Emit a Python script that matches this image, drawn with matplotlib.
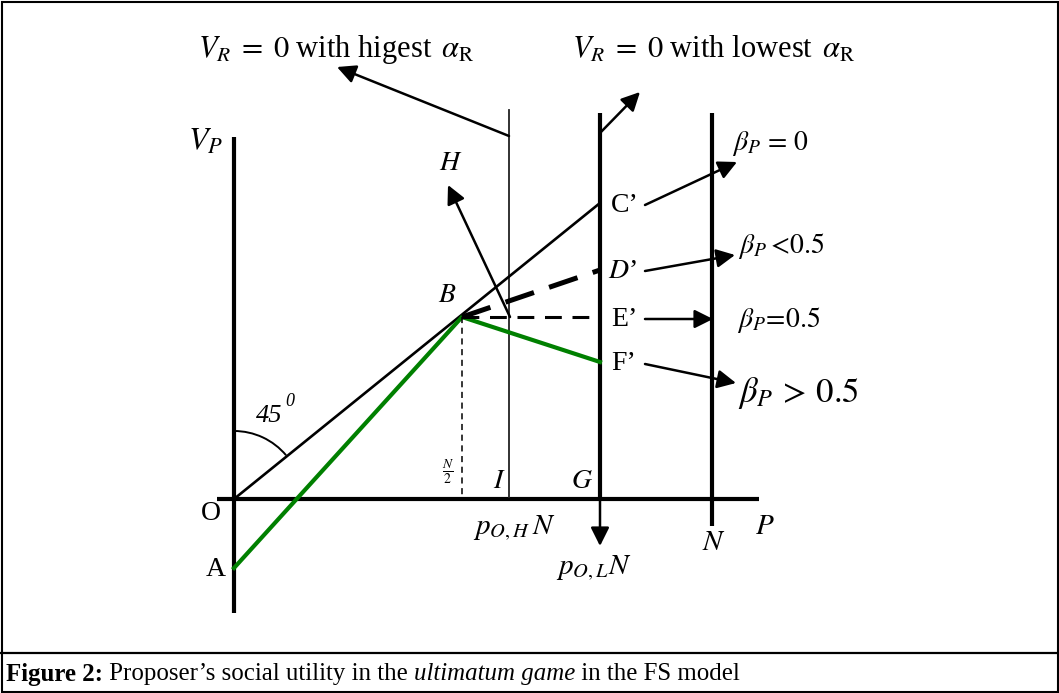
import matplotlib
matplotlib.use("Agg")
import matplotlib.pyplot as plt
from matplotlib.patches import Arc, Rectangle

plt.rcParams['font.family'] = ['Liberation Serif', 'DejaVu Serif']
plt.rcParams['mathtext.fontset'] = 'stix'

W, H = 1059, 693
fig = plt.figure(figsize=(W / 100, H / 100), dpi=100)
ax = fig.add_axes([0, 0, 1, 1])
ax.set_xlim(0, W)
ax.set_ylim(H, 0)
ax.axis('off')

# ---- diagram geometry (pixel-space key points) ----
origin = (234, 499)
point_A = (234, 568)
point_B = (462, 317)
x_I, x_G, x_N = 509, 600, 712
y_C, y_D, y_E, y_F = 203, 270, 317, 362
vaxis_range = (137, 613)
haxis_range = (217, 759)

# labels
beta_labels = [r"$\beta_P\,=\,0$", r"$\beta_P\,\!<\!0.5$", r"$\beta_P\!=\!0.5$", r"$\beta_P\,>\,0.5$"]
point_labels = ["C’", "D’", "E’", "F’"]
caption_parts = [("Figure 2:", 'bold', 'normal'),
                 (" Proposer’s social utility in the ", 'normal', 'normal'),
                 ("ultimatum game", 'normal', 'italic'),
                 (" in the FS model", 'normal', 'normal')]

K = 'black'
GREEN = '#008000'

# frame and caption box
ax.add_patch(Rectangle((1.5, 1.5), W - 3, H - 3, fill=False, lw=1.5, ec=K))
ax.plot([1, W - 1], [653, 653], color=K, lw=1.6)

# axes
ax.plot([origin[0], origin[0]], vaxis_range, color=K, lw=3.0, solid_capstyle='butt')
ax.plot(haxis_range, [origin[1], origin[1]], color=K, lw=3.0, solid_capstyle='butt')

# vertical lines
ax.plot([x_I, x_I], [110, 497], color='#222222', lw=1.3)
ax.plot([x_G, x_G], [113, 499], color=K, lw=3.0, solid_capstyle='butt')
ax.plot([x_N, x_N], [113, 526], color=K, lw=3.0, solid_capstyle='butt')

# 45 degree line O -> C'
ax.plot([origin[0], x_G], [origin[1], y_C], color=K, lw=1.9)
# green A -> B -> F'
ax.plot([point_A[0], point_B[0], x_G], [point_A[1], point_B[1], y_F], color=GREEN, lw=3.0,
        solid_joinstyle='miter')
# bold dashed B -> D'
ax.plot([point_B[0], x_G], [point_B[1], y_D], color=K, lw=3.6, dashes=(6, 3.2))
# dashed B -> E'
ax.plot([point_B[0], x_G - 8], [point_B[1], y_E], color=K, lw=2.2, dashes=(5.5, 3.5))
# dashed vertical from B
ax.plot([point_B[0], point_B[0]], [point_B[1], 497], color=K, lw=1.1, dashes=(4, 3))

# arc 45
ax.add_patch(Arc(origin, 136, 136, angle=0, theta1=-90, theta2=-40, color=K, lw=1.4))


def arrow(p0, p1, lw=1.8, ms=28):
    ax.annotate('', xy=p1, xytext=p0,
                arrowprops=dict(arrowstyle='-|>', color=K, lw=lw, mutation_scale=ms,
                                shrinkA=0, shrinkB=0))


arrow((x_I, 136), (337, 67))
arrow((x_G, 133), (640, 92))
arrow((510, 317), (448, 185))
arrow((x_G, 499), (x_G, 546))
arrow((645, 205), (737, 162))
arrow((645, 271), (735, 255))
arrow((645, 319), (713, 319))
arrow((645, 364), (736, 383))

FS = 22
# top texts
ax.text(198, 50, r"$V_R\;=\;0$ with higest $\,\alpha_{\mathrm{R}}$", fontsize=FS, va='center', ha='left')
ax.text(572, 50, r"$V_R\;=\;0$ with lowest $\,\alpha_{\mathrm{R}}$", fontsize=FS, va='center', ha='left')

ax.text(188, 142, r"$V_P$", fontsize=23, va='center', ha='left')
ax.text(451, 163, r"$H$", fontsize=20, va='center', ha='center')
ax.text(447, 295, r"$B$", fontsize=20, va='center', ha='center')

ys = [y_C, y_D, y_E, y_F]
for lab, y in zip(point_labels, ys):
    if lab.startswith('D'):
        ax.text(608, y + 2, r"$D$’", fontsize=20, va='center', ha='left')
    else:
        ax.text(611, y + 2, lab, fontsize=20, va='center', ha='left')

beta_pos = [(732, 143, 20), (738, 246, 20), (737, 320, 20), (738, 393, 25)]
for lab, (x, y, fs) in zip(beta_labels, beta_pos):
    ax.text(x, y, lab, fontsize=fs, va='center', ha='left')

ax.text(256, 416, "45", fontsize=19, fontstyle='italic', va='center', ha='left')
ax.text(285, 402, "0", fontsize=13, fontstyle='italic', va='center', ha='left')
ax.text(448, 472, r"$\frac{N}{2}$", fontsize=14, va='center', ha='center')
ax.text(499, 482, r"$I$", fontsize=20, va='center', ha='center')
ax.text(582, 482, r"$G$", fontsize=20, va='center', ha='center')
ax.text(211, 513, "O", fontsize=20, va='center', ha='center')
ax.text(216, 570, "A", fontsize=20, va='center', ha='center')
ax.text(514, 528, r"$p_{O,H}\,N$", fontsize=21, va='center', ha='center')
ax.text(594, 568, r"$p_{O,L}N$", fontsize=21, va='center', ha='center')
ax.text(714, 543, r"$N$", fontsize=21, va='center', ha='center')
ax.text(765, 527, r"$P$", fontsize=21, va='center', ha='center')

# caption
fig.canvas.draw()
r = fig.canvas.get_renderer()
x = 6
for txt, wt, st in caption_parts:
    t = ax.text(x, 674, txt, fontsize=17.9, fontweight=wt, fontstyle=st, va='center', ha='left')
    bb = t.get_window_extent(renderer=r)
    x += bb.width

fig.savefig('out.png', dpi=100)
